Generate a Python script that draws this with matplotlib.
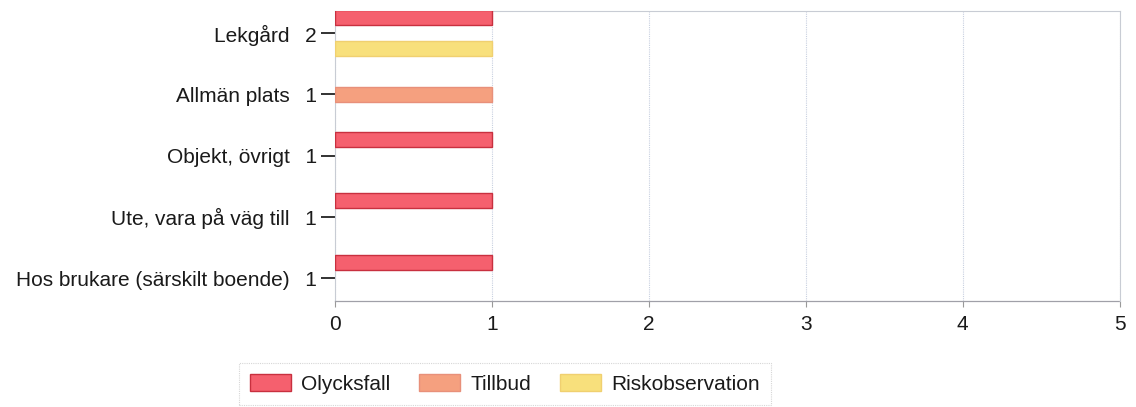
import matplotlib
matplotlib.use("Agg")
import matplotlib.pyplot as plt
import numpy as np
from matplotlib.patches import Patch

categories = ["Lekgård", "Allmän plats", "Objekt, övrigt", "Ute, vara på väg till", "Hos brukare (särskilt boende)"]
series_names = ["Olycksfall", "Tillbud", "Riskobservation"]
olycksfall = [1, 0, 1, 1, 1]
tillbud = [0, 1, 0, 0, 0]
riskobservation = [1, 0, 0, 0, 0]
x_ticks = [0, 1, 2, 3, 4, 5]

fills = ["#f5606e", "#f5a07f", "#f8e07c"]
edges = ["#c8303f", "#e8907a", "#f0d070"]

plt.rcParams['font.family'] = ['Liberation Sans', 'DejaVu Sans']
fig = plt.figure(figsize=(11.36, 4.07), dpi=100)
ax = fig.add_axes([0.2949, 0.2604, 0.6906, 0.7126])

series = [olycksfall, tillbud, riskobservation]
offsets = [-0.26, 0.0, 0.26]
ypos = np.arange(len(categories))
for vals, off, fc, ec in zip(series, offsets, fills, edges):
    for i, v in enumerate(vals):
        if v > 0:
            ax.barh(ypos[i] + off, v, height=0.245, color=fc, edgecolor=ec, linewidth=1.0, zorder=3)

totals = [a + b + c for a, b, c in zip(olycksfall, tillbud, riskobservation)]
ax.set_yticks(ypos)
ax.set_yticklabels([f"{c}  \u2009{t}" for c, t in zip(categories, totals)], fontsize=15, color='#1a1a1a')
ax.set_ylim(4.375, -0.36)
ax.set_xlim(0, 5)
ax.set_xticks(x_ticks)
ax.set_xticklabels([str(t) for t in x_ticks], fontsize=15, color='#1a1a1a')

ax.grid(axis='x', color='#c8d0e0', linestyle=(0, (1, 1)), linewidth=0.8, zorder=0)
for s in ['top', 'right', 'left']:
    ax.spines[s].set_color('#c8ccd4')
    ax.spines[s].set_linestyle((0, (1, 1)))
    ax.spines[s].set_linewidth(0.8)
ax.spines['bottom'].set_color('#a0a0a8')
ax.spines['bottom'].set_linestyle((0, (1, 1)))
ax.spines['bottom'].set_linewidth(0.9)

ax.tick_params(axis='y', length=10, width=1.3, color='#222222', pad=3)
ax.tick_params(axis='x', length=4, width=0.8, color='#999999', pad=6)

handles = [Patch(facecolor=fc, edgecolor=ec, label=n) for n, fc, ec in zip(series_names, fills, edges)]
leg = fig.legend(handles=handles, loc='center', bbox_to_anchor=(0.4445, 0.0565), ncol=3,
                 fontsize=15, frameon=True, fancybox=False, handlelength=1.97, handleheight=0.82,
                 handletextpad=0.48, columnspacing=1.39, borderpad=0.55, labelcolor='#1a1a1a')
leg.get_frame().set_edgecolor('#cccccc')
leg.get_frame().set_linestyle((0, (1, 1)))
leg.get_frame().set_linewidth(0.8)

fig.savefig("out.png", dpi=100)
